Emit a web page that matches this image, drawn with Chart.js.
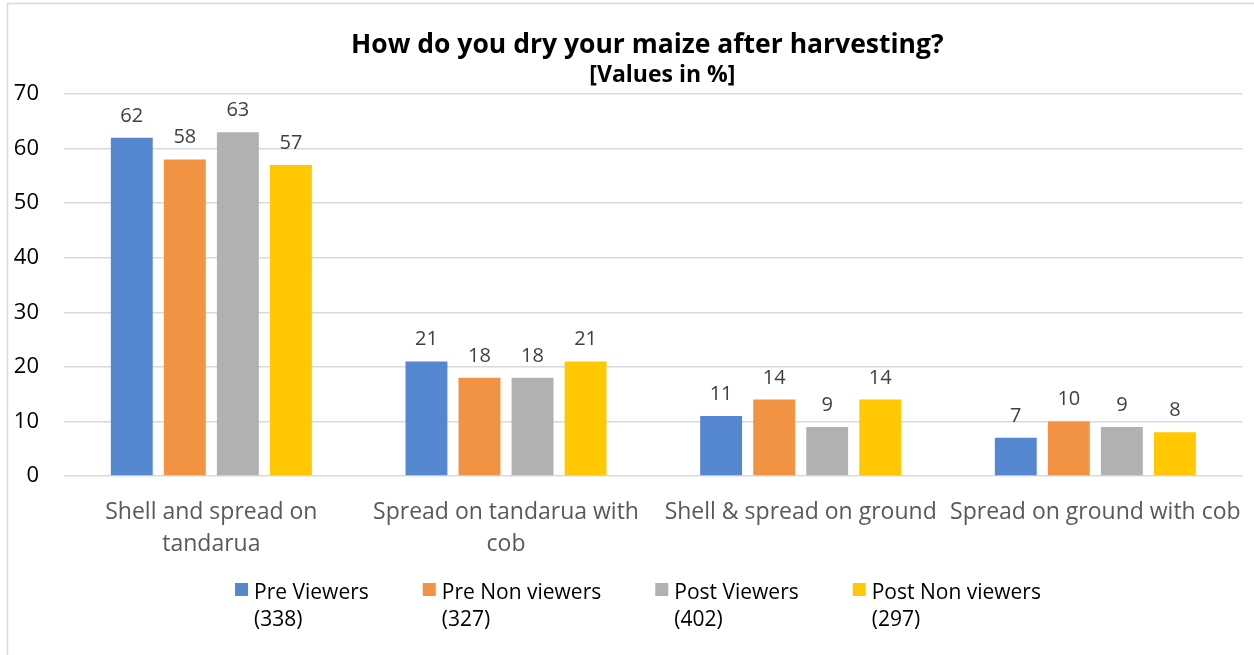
<!DOCTYPE html>
<html lang="en">
<head>
  <meta charset="UTF-8">
  <title>How do you dry your maize after harvesting?</title>
  <style>
    body { margin: 0; background: white; }
    #wrap { position: relative; width: 1254px; height: 655px; }
  </style>
</head>
<body>
  <div id="wrap"><canvas id="chart" width="1254" height="655"></canvas></div>

  <script src="https://cdn.jsdelivr.net/npm/chart.js"></script>
  <script>
    // Data
    const categories = [
      ["Shell and spread on", "tandarua"],
      ["Spread on tandarua with", "cob"],
      ["Shell & spread on ground"],
      ["Spread on ground with cob"]
    ];
    const seriesNames = [
      ["Pre Viewers", "(338)"],
      ["Pre Non viewers", "(327)"],
      ["Post Viewers", "(402)"],
      ["Post Non viewers", "(297)"]
    ];
    const preViewers = [62, 21, 11, 7];
    const preNonViewers = [58, 18, 14, 10];
    const postViewers = [63, 18, 9, 9];
    const postNonViewers = [57, 21, 14, 8];
    const yMin = 0, yMax = 70, yStep = 10;

    const colors = ['#5587d0', '#f19342', '#b1b1b1', '#ffc803'];
    const FONT = '"Open Sans", "DejaVu Sans", sans-serif';

    // Frame, title and subtitle
    const decorPlugin = {
      id: 'decor',
      beforeDraw(chart) {
        const c = chart.ctx;
        c.save();
        c.strokeStyle = '#d9d9d9';
        c.lineWidth = 1.5;
        c.strokeRect(7.5, 3.5, 1400, 800);
        const cx = (chart.chartArea.left + chart.chartArea.right) / 2 - 6;
        c.fillStyle = '#000';
        c.textAlign = 'center';
        c.textBaseline = 'alphabetic';
        c.font = 'bold 26.5px ' + FONT;
        c.fillText('How do you dry your maize after harvesting?', cx, 53);
        c.font = 'bold 23px ' + FONT;
        c.fillText('[Values in %]', cx + 15, 82);
        c.restore();
      }
    };

    // Values above the bars
    const valueLabels = {
      id: 'valueLabels',
      afterDatasetsDraw(chart) {
        const c = chart.ctx;
        c.save();
        c.fillStyle = '#404040';
        c.font = '20px ' + FONT;
        c.textAlign = 'center';
        c.textBaseline = 'alphabetic';
        chart.data.datasets.forEach((ds, i) => {
          chart.getDatasetMeta(i).data.forEach((bar, j) => {
            c.fillText(ds.data[j], bar.x, bar.y - 16);
          });
        });
        c.restore();
      }
    };

    // Legend with two-line labels
    const legendPlugin = {
      id: 'twoLineLegend',
      afterDraw(chart) {
        const c = chart.ctx;
        c.save();
        c.font = '21px ' + FONT;
        const box = 13, boxGap = 6, itemGap = 54;
        const widths = seriesNames.map(n => box + boxGap + Math.max(...n.map(t => c.measureText(t).width)));
        const total = widths.reduce((a, b) => a + b, 0) + itemGap * (widths.length - 1);
        let x = 638 - total / 2;
        const y = 583;
        c.textBaseline = 'middle';
        c.textAlign = 'left';
        seriesNames.forEach((n, i) => {
          c.fillStyle = colors[i];
          c.fillRect(x, y, box, box);
          c.fillStyle = '#000';
          n.forEach((t, k) => c.fillText(t, x + box + boxGap, y + 10 + k * 27));
          x += widths[i] + itemGap;
        });
        c.restore();
      }
    };

    const allSeries = [preViewers, preNonViewers, postViewers, postNonViewers];

    new Chart(document.getElementById('chart'), {
      type: 'bar',
      data: {
        labels: categories,
        datasets: allSeries.map((d, i) => ({
          label: seriesNames[i].join(' '),
          data: d,
          backgroundColor: colors[i],
          categoryPercentage: 0.72,
          barPercentage: 0.79
        }))
      },
      options: {
        responsive: false,
        animation: false,
        layout: { padding: { top: 94, right: 11, left: 0, bottom: 0 } },
        plugins: {
          legend: { display: false },
          title: { display: false },
          tooltip: { enabled: false }
        },
        scales: {
          x: {
            grid: { display: false },
            border: { display: false },
            ticks: {
              color: '#595959',
              font: { family: FONT, size: 23, lineHeight: 1.4 },
              padding: 12,
              maxRotation: 0,
              autoSkip: false
            },
            afterFit(scale) { scale.height = 179; }
          },
          y: {
            min: yMin,
            max: yMax,
            grid: { color: '#d9d9d9', lineWidth: 1.5, drawTicks: false },
            border: { display: false },
            ticks: {
              stepSize: yStep,
              color: '#000',
              font: { family: FONT, size: 22 },
              padding: 25
            },
            afterFit(scale) { scale.width = 64; }
          }
        }
      },
      plugins: [decorPlugin, valueLabels, legendPlugin]
    });
  </script>
</body>
</html>
